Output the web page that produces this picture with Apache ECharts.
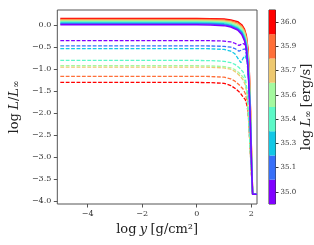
<!DOCTYPE html>
<html>
<head>
<meta charset="utf-8">
<script src="https://cdn.jsdelivr.net/npm/echarts@6/dist/echarts.min.js"></script>
<style>html,body{margin:0;padding:0;background:#fff}#c{width:314px;height:245px}</style>
</head>
<body>
<div id="c"></div>
<script>
// Colorbar categories (log L_inf [erg/s]), bottom to top
var cbLabels = ['35.0', '35.1', '35.3', '35.4', '35.6', '35.7', '35.9', '36.0'];
var cbColors = ['#8000ff', '#376ff9', '#12c8e6', '#5bf9c7', '#a4f99f', '#edc86f', '#ff6f39', '#ff0000'];

// Tick values
var xTicks = [-4, -2, 0, 2];
var yTicks = [0, -0.5, -1, -1.5, -2, -2.5, -3, -3.5, -4];

// Solid curves: shared x grid (log y)
var solidX = [-5, -2, 0, 0.5, 1.0, 1.25, 1.5, 1.65, 1.75, 1.82, 1.88, 1.93, 1.97, 2.0, 2.03, 2.05, 2.2];
var solid350 = [0.00, 0.00, 0.00, -0.005, -0.02, -0.05, -0.12, -0.22, -0.36, -0.55, -1.0, -1.6, -2.3, -3.0, -3.55, -3.85, -3.85];
var solid351 = [0.02, 0.02, 0.02, 0.015, 0.0, -0.03, -0.10, -0.19, -0.33, -0.51, -0.93, -1.53, -2.25, -2.95, -3.53, -3.85, -3.85];
var solid353 = [0.04, 0.04, 0.04, 0.035, 0.02, -0.01, -0.08, -0.16, -0.29, -0.47, -0.87, -1.47, -2.2, -2.9, -3.51, -3.85, -3.85];
var solid354 = [0.06, 0.06, 0.06, 0.055, 0.045, 0.015, -0.05, -0.13, -0.25, -0.43, -0.8, -1.4, -2.15, -2.86, -3.49, -3.85, -3.85];
var solid356 = [0.08, 0.08, 0.08, 0.075, 0.065, 0.04, -0.02, -0.09, -0.2, -0.38, -0.73, -1.32, -2.08, -2.82, -3.47, -3.85, -3.85];
var solid357 = [0.10, 0.10, 0.10, 0.095, 0.085, 0.065, 0.01, -0.06, -0.16, -0.33, -0.67, -1.25, -2.02, -2.78, -3.45, -3.85, -3.85];
var solid359 = [0.12, 0.12, 0.12, 0.117, 0.108, 0.088, 0.04, -0.03, -0.13, -0.29, -0.61, -1.17, -1.96, -2.74, -3.42, -3.85, -3.85];
var solid360 = [0.14, 0.14, 0.14, 0.138, 0.13, 0.11, 0.07, 0.0, -0.1, -0.25, -0.55, -1.1, -1.9, -2.7, -3.4, -3.85, -3.85];

// Dashed curves: shared x grid (log y)
var dashX = [-5, -2, 0, 0.5, 1.0, 1.25, 1.4, 1.55, 1.62, 1.7, 1.78, 1.85, 1.9, 1.95, 2.0, 2.04];
var dash350 = [-0.36, -0.36, -0.36, -0.362, -0.37, -0.39, -0.42, -0.47, -0.49, -0.43, -0.45, -0.75, -1.2, -1.95, -3.0, -3.7];
var dash351 = [-0.48, -0.48, -0.48, -0.482, -0.49, -0.51, -0.54, -0.60, -0.63, -0.56, -0.55, -0.78, -1.2, -1.95, -3.0, -3.7];
var dash353 = [-0.54, -0.54, -0.54, -0.545, -0.56, -0.60, -0.66, -0.80, -0.86, -0.76, -0.70, -0.85, -1.25, -1.95, -3.0, -3.7];
var dash354 = [-0.81, -0.81, -0.81, -0.815, -0.83, -0.86, -0.90, -0.97, -1.01, -1.07, -1.2, -1.5, -2.1, -2.7, -3.3, -3.8];
var dash356 = [-0.93, -0.93, -0.93, -0.935, -0.95, -0.98, -1.02, -1.09, -1.13, -1.19, -1.3, -1.55, -2.1, -2.7, -3.3, -3.8];
var dash357 = [-0.96, -0.96, -0.96, -0.965, -0.98, -1.01, -1.06, -1.14, -1.19, -1.25, -1.36, -1.6, -2.1, -2.7, -3.3, -3.8];
var dash359 = [-1.17, -1.17, -1.17, -1.175, -1.19, -1.23, -1.28, -1.36, -1.40, -1.46, -1.56, -1.75, -2.15, -2.7, -3.3, -3.8];
var dash360 = [-1.31, -1.31, -1.31, -1.315, -1.33, -1.38, -1.44, -1.52, -1.57, -1.64, -1.70, -1.85, -2.1, -2.7, -3.3, -3.8];

var solidSets = [solid350, solid351, solid353, solid354, solid356, solid357, solid359, solid360];
var dashSets = [dash350, dash351, dash353, dash354, dash356, dash357, dash359, dash360];

function pairs(xs, ys) { return xs.map(function (x, i) { return [x, ys[i]]; }); }
function fmt(v, d) { return v.toFixed(d).replace('-', '\u2212'); }

var serif = 'DejaVu Serif';
var series = [];
for (var k = cbColors.length - 1; k >= 0; k--) {
  series.push({
    type: 'line', xAxisIndex: 0, yAxisIndex: 0, data: pairs(dashX, dashSets[k]),
    showSymbol: false, silent: true, animation: false,
    lineStyle: { color: cbColors[k], width: 1.3, type: [3.8, 1.6] }
  });
}
for (var k2 = cbColors.length - 1; k2 >= 0; k2--) {
  series.push({
    type: 'line', xAxisIndex: 0, yAxisIndex: 0, data: pairs(solidX, solidSets[k2]),
    showSymbol: false, silent: true, animation: false,
    lineStyle: { color: cbColors[k2], width: 1.5 }
  });
}
series.push({
  type: 'bar', xAxisIndex: 1, yAxisIndex: 1, barCategoryGap: '0%', silent: true, animation: false,
  data: cbLabels.map(function (l, i) { return { value: 1, itemStyle: { color: cbColors[i] } }; })
});

var nameRich = {
  r: { fontFamily: serif, fontSize: 13, color: '#222' },
  i: { fontFamily: serif, fontStyle: 'italic', fontSize: 13, color: '#222' },
  s: { fontFamily: serif, fontSize: 9, color: '#222', verticalAlign: 'bottom' }
};

var chart = echarts.init(document.getElementById('c'), null, { renderer: 'canvas' });
chart.setOption({
  animation: false,
  grid: [
    { left: 44, right: 57, top: 10, bottom: 41, show: true, borderColor: '#555', borderWidth: 1, backgroundColor: 'transparent' },
    { left: 269, right: 35, top: 10, bottom: 41, show: true, borderColor: '#333', borderWidth: 1, backgroundColor: 'transparent' }
  ],
  xAxis: [
    {
      type: 'value', gridIndex: 0, min: -5.11, max: 2.21,
      splitLine: { show: false }, axisLine: { show: false, onZero: false },
      axisTick: { show: true, inside: false, length: 3.5, lineStyle: { color: '#555' }, customValues: xTicks },
      axisLabel: { customValues: xTicks, formatter: function (v) { return fmt(v, 0); }, fontFamily: serif, fontSize: 8, color: '#333', margin: 6 },
      name: '{r|log} {i|y} {r|[g/cm\u00b2]}', nameLocation: 'middle', nameGap: 17,
      nameTextStyle: { rich: nameRich }
    },
    { type: 'value', gridIndex: 1, min: 0, max: 1, show: false }
  ],
  yAxis: [
    {
      type: 'value', gridIndex: 0, min: -4.07, max: 0.335,
      splitLine: { show: false }, axisLine: { show: false, onZero: false },
      axisTick: { show: true, inside: false, length: 3.5, lineStyle: { color: '#555' }, customValues: yTicks },
      axisLabel: { customValues: yTicks, formatter: function (v) { return fmt(v, 1); }, fontFamily: serif, fontSize: 8, color: '#333', margin: 6 },
      name: '{r|log} {i|L}{r|/}{i|L}{s|\u221e}', nameLocation: 'middle', nameGap: 33, nameRotate: 90,
      nameTextStyle: { rich: nameRich }
    },
    {
      type: 'category', gridIndex: 1, data: cbLabels, position: 'right',
      axisLine: { show: false, onZero: false },
      axisTick: { show: true, alignWithLabel: true, length: 3, lineStyle: { color: '#333' } },
      axisLabel: { fontFamily: serif, fontSize: 7, color: '#333', margin: 5 },
      name: '{r|log} {i|L}{s|\u221e} {r|[erg/s]}', nameLocation: 'middle', nameGap: 22, nameRotate: 90,
      nameTextStyle: { rich: nameRich }
    }
  ],
  series: series
});
</script>
</body>
</html>
